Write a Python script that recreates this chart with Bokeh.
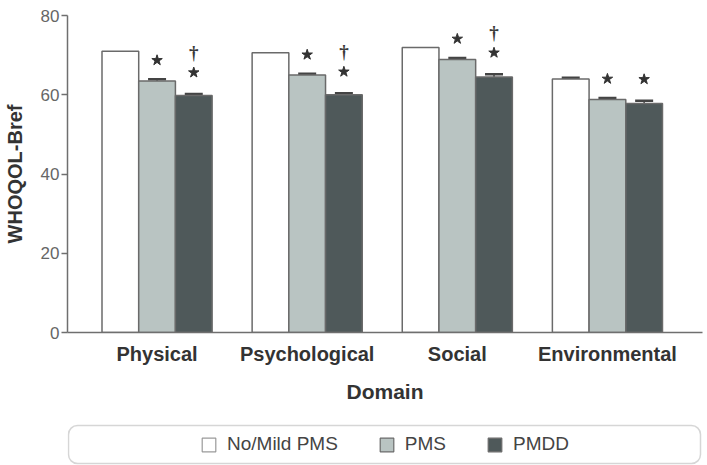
from bokeh.plotting import figure
from bokeh.layouts import column
from bokeh.models import (ColumnDataSource, Range1d, FixedTicker, Whisker, TeeHead,
                          BoxAnnotation, Legend, LegendItem)
from bokeh.embed import file_html
from bokeh.resources import INLINE

# WHOQOL-Bref domain scores by premenstrual group
domains = ["Physical", "Psychological", "Social", "Environmental"]
groups = ["No/Mild PMS", "PMS", "PMDD"]
no_mild = [71.0, 70.6, 71.9, 64.0]
no_mild_err = [0.0, 0.0, 0.0, 0.3]
pms = [63.5, 65.0, 68.9, 58.8]
pms_err = [0.4, 0.3, 0.4, 0.4]
pmdd = [59.8, 60.0, 64.5, 57.8]
pmdd_err = [0.4, 0.4, 0.7, 0.7]
# significance marks: * vs No/Mild PMS, † vs PMS
pms_star = [True, True, True, True]
pmdd_star = [True, True, True, True]
pmdd_dagger = [True, True, True, False]
y_ticks = [0, 20, 40, 60, 80]

FONT = "Liberation Sans"
fills = ["#ffffff", "#b9c4c2", "#4f595a"]
outline = "#6a6a6a"
axis_col = "#6f6f6f"

# layout of the grouped bars (x in bar-width units)
first_center = 1.44
stride = 4.09
bar_w = 1.0

p = figure(width=707, height=410, output_backend="svg", toolbar_location=None,
           x_range=Range1d(0, 17.3), y_range=Range1d(0, 80),
           min_border_left=67, min_border_right=5, min_border_top=15,
           min_border_bottom=78)
p.xgrid.visible = False
p.ygrid.visible = False
p.outline_line_color = None
p.background_fill_color = "white"
p.border_fill_color = "white"

series = [(no_mild, no_mild_err), (pms, pms_err), (pmdd, pmdd_err)]
for j, (vals, errs) in enumerate(series):
    xs = [first_center + i * stride + j * bar_w for i in range(len(domains))]
    src = ColumnDataSource(dict(x=xs, top=vals))
    p.vbar(x="x", top="top", width=bar_w, source=src, fill_color=fills[j],
           line_color=outline, line_width=1.5)
    keep = [i for i, e in enumerate(errs) if e > 0]
    err_src = ColumnDataSource(dict(
        x=[xs[i] for i in keep],
        top=[vals[i] for i in keep],
        err_top=[vals[i] + errs[i] for i in keep]))
    p.add_layout(Whisker(base="x", lower="top", upper="err_top", source=err_src,
                         dimension="height", line_color="#444444", line_width=1.5,
                         upper_head=TeeHead(size=18, line_color="#444444", line_width=2.5),
                         lower_head=None))

# significance markers above the PMS and PMDD bars
star_off = {1: 4.8, 2: 5.4}
dagger_gap = 5.0
for j, flags in ((1, pms_star), (2, pmdd_star)):
    vals, errs = series[j]
    xs, ys = [], []
    for i, f in enumerate(flags):
        if f:
            xs.append(first_center + i * stride + j * bar_w)
            ys.append(vals[i] + errs[i] + star_off[j])
    p.scatter(xs, ys, marker="star", size=11, fill_color="#333333",
              line_color="#333333")
    if j == 2:
        dx, dy = [], []
        for i, f in enumerate(pmdd_dagger):
            if f:
                dx.append(first_center + i * stride + j * bar_w)
                dy.append(vals[i] + errs[i] + star_off[j] + dagger_gap)
        p.text(dx, dy, text=["\u2020"] * len(dx), text_align="center",
               text_baseline="middle", text_font_size="19px",
               text_font_style="bold", text_color="#3a3a3a",
               text_font="DejaVu Sans")

# axes
p.yaxis.ticker = FixedTicker(ticks=y_ticks)
p.yaxis.minor_tick_line_color = None
p.yaxis.major_tick_out = 6
p.yaxis.major_tick_in = 0
p.yaxis.major_label_standoff = 2
p.yaxis.major_label_text_font = FONT
p.yaxis.major_label_text_font_size = "17px"
p.yaxis.major_label_text_color = "#666666"
p.yaxis.axis_line_color = axis_col
p.yaxis.axis_line_width = 1.5
p.yaxis.major_tick_line_color = axis_col
p.yaxis.major_tick_line_width = 1.5
p.yaxis.axis_label = "WHOQOL-Bref"
p.yaxis.axis_label_text_font = FONT
p.yaxis.axis_label_text_font_style = "bold"
p.yaxis.axis_label_text_font_size = "20px"
p.yaxis.axis_label_text_color = "#333333"
p.yaxis.axis_label_standoff = 12

centers = [first_center + i * stride + bar_w for i in range(len(domains))]
p.xaxis.ticker = FixedTicker(ticks=centers)
p.xaxis.major_label_overrides = {c: d for c, d in zip(centers, domains)}
p.xaxis.minor_tick_line_color = None
p.xaxis.major_tick_line_color = None
p.xaxis.major_tick_out = 0
p.xaxis.major_tick_in = 0
p.xaxis.major_label_standoff = 10
p.xaxis.major_label_text_font = FONT
p.xaxis.major_label_text_font_style = "bold"
p.xaxis.major_label_text_font_size = "20px"
p.xaxis.major_label_text_color = "#333333"
p.xaxis.axis_line_color = axis_col
p.xaxis.axis_line_width = 1.5
p.xaxis.axis_label = "Domain"
p.xaxis.axis_label_text_font = FONT
p.xaxis.axis_label_text_font_style = "bold"
p.xaxis.axis_label_text_font_size = "21px"
p.xaxis.axis_label_text_color = "#333333"
p.xaxis.axis_label_standoff = 12

# legend strip with a rounded frame; x in canvas pixels over the shared frame
lg = figure(width=707, height=55, output_backend="svg", toolbar_location=None,
            x_range=Range1d(67, 702), y_range=Range1d(0, 55),
            x_axis_location=None, y_axis_location=None,
            min_border=0, min_border_left=67, min_border_right=5)
lg.xgrid.visible = False
lg.ygrid.visible = False
lg.outline_line_color = None
lg.add_layout(BoxAnnotation(left=68, right=700, bottom=2, top=40,
                            fill_color=None, line_color="#777777", line_width=1.5,
                            border_radius=9))
items = []
nan = float("nan")
for j, name in enumerate(groups):
    # legend-only renderer: a single undrawn (NaN) bar carrying the style
    r = lg.vbar(x=[nan], top=[nan], width=1, fill_color=fills[j],
                line_color="#9a9a9a" if j == 0 else outline, line_width=1.2)
    items.append(LegendItem(label=name, renderers=[r]))
legend = Legend(items=items, orientation="horizontal", location=(133, 10),
                border_line_color=None, background_fill_alpha=0,
                padding=0, margin=0, spacing=40, label_standoff=10,
                glyph_width=17, glyph_height=17,
                label_text_font=FONT, label_text_font_size="19px",
                label_text_color="#444444")
lg.add_layout(legend)

layout = column(p, lg, spacing=0)
open("out.html", "w").write(file_html(layout, INLINE))
